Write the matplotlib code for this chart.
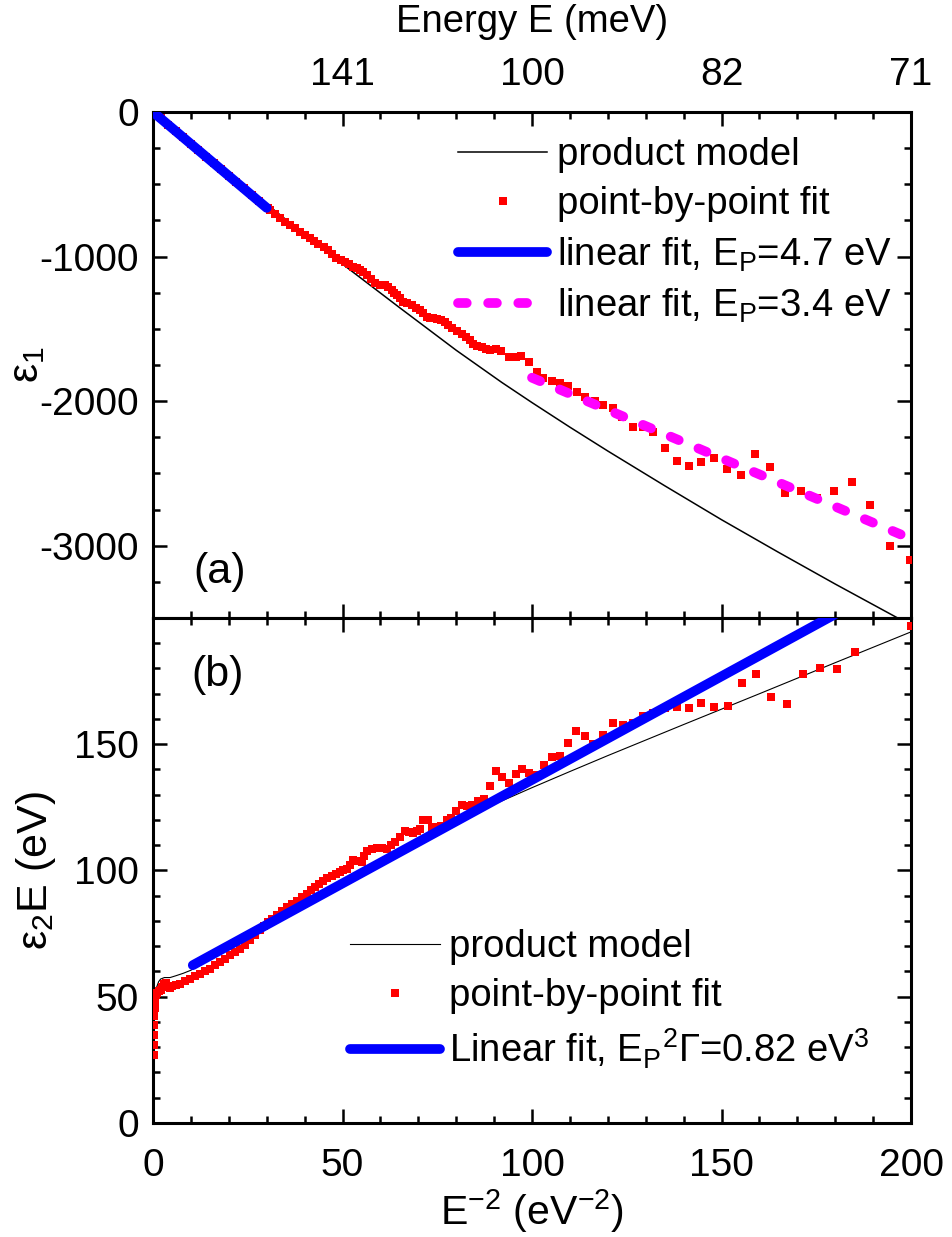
import matplotlib
matplotlib.use('Agg')
import matplotlib.pyplot as plt
from matplotlib.ticker import MultipleLocator

plt.rcParams['font.family'] = ['Liberation Sans', 'DejaVu Sans']
plt.rcParams['mathtext.default'] = 'regular'
plt.rcParams['axes.unicode_minus'] = False

# (a) eps1 vs E^-2
model1_x = [0, 10, 20, 30, 40, 50, 65, 80, 92, 100, 110, 120, 135, 150, 165, 180, 200]
model1_y = [0, -215, -428, -637, -848, -1052, -1352, -1648, -1870, -2010, -2180,
            -2345, -2585, -2820, -3045, -3265, -3550]

pts1_x = [0.5, 2, 4, 6, 8, 10, 12, 14, 16, 18, 20, 22, 24, 26, 28,
          30.3, 30.9, 32.2, 33.5, 34.8, 36.1, 37.4, 38.8, 40.1, 41.4, 42.5, 43.6,
          45.0, 46.3, 47.3, 48.4, 49.5, 50.7, 51.8, 52.9, 53.7, 54.6, 55.5, 56.4,
          57.5, 58.6, 59.9, 61.2, 62.1, 63.0, 63.6, 64.3, 65.1, 66.0, 67.1, 68.3,
          69.4, 70.4, 71.3, 72.2, 73.0, 73.9, 75.0, 76.1, 77.0, 77.9, 79.0, 80.1,
          81.4, 82.7, 83.6, 84.5, 85.6, 86.7, 87.8, 88.9, 90.6, 91.9, 94.0, 95.9,
          97.2, 99.3, 101.2, 103.0, 105.2, 107.4, 109.6, 111.8, 114.0, 116.6,
          118.8, 121.5, 123.7, 126.6, 129.2, 132.0, 135.0, 138.2, 141.3, 144.5,
          148.0, 151.4, 155.1, 158.8, 162.8, 166.8, 171.0, 175.1, 179.7, 184.4,
          189.3, 194.5, 199.7]
pts1_y = [-11, -44, -88, -132, -176, -220, -264, -308, -352, -396, -440, -484,
          -528, -572, -616,
          -664, -678, -707, -736, -759, -782, -805, -828, -851, -874, -895, -915,
          -935, -955, -985, -1012, -1024, -1035, -1052, -1070, -1082, -1093, -1110,
          -1128, -1157, -1185, -1194, -1197, -1212, -1232, -1250, -1266, -1290,
          -1312, -1324, -1336, -1353, -1370, -1393, -1416, -1422, -1428, -1434,
          -1439, -1456, -1474, -1495, -1515, -1535, -1554, -1580, -1607, -1616,
          -1624, -1636, -1647, -1636, -1654, -1695, -1693, -1689, -1727, -1797,
          -1843, -1859, -1873, -1896, -1935, -1969, -1997, -2025, -2050, -2108,
          -2177, -2177, -2212, -2323, -2417, -2449, -2419, -2395, -2467, -2509,
          -2367, -2457, -2634, -2620, -2668, -2619, -2560, -2717, -3000, -3100]

fit47_x = [0, 30]
fit47_y = [0, -663]
fit34_x = [100, 198]
fit34_y = [-1838, -2930]

# (b) eps2*E vs E^-2
model2_x = [0, 0.1, 0.3, 0.6, 1.0, 1.5, 2.0, 3.0, 4.5, 6, 8, 10, 15, 20, 30, 40,
            50, 60, 70, 80, 90, 100, 110, 120, 140, 160, 180, 200]
model2_y = [28, 35, 45, 51, 54, 56, 57, 57.6, 57.6, 58.3, 59.3, 60.5, 65, 69.5,
            77.8, 86.2, 94.5, 102.8, 111, 119, 126.2, 132.8, 139.2, 145.5, 157.8,
            170, 182.3, 194.5]

pts2_x = [0.15, 0.2, 0.25, 0.3, 0.35, 0.4, 0.5, 0.7, 1.0, 1.5, 2.0, 2.5, 3.0, 3.5,
          4.0, 4.5, 5.0, 6.0, 7.1, 8.4, 9.8, 11.1, 12.4, 13.7, 15.0, 16.3, 17.7,
          19.0, 20.3, 21.6, 23.0, 24.3, 25.6, 26.9, 28.2, 29.3, 30.4, 31.5, 32.6,
          34.0, 35.3, 36.6, 37.9, 39.2, 40.6, 41.6, 42.7, 43.8, 44.9, 46.0, 47.2,
          48.2, 49.3, 50.2, 51.1, 52.0, 52.9, 54.0, 55.1, 55.7, 56.4, 57.7, 59.0,
          60.3, 61.7, 62.8, 63.9, 65.2, 66.5, 67.6, 68.7, 69.6, 70.4, 71.3, 72.6,
          73.7, 74.8, 75.9, 77.5, 78.6, 79.9, 81.4, 82.9, 84.3, 85.8, 87.3, 88.9,
          90.5, 92.2, 93.9, 95.7, 97.4, 99.2, 101.2, 103.2, 105.3, 107.3, 109.4,
          111.6, 114.0, 116.2, 118.7, 121.3, 123.9, 126.6, 129.2, 132.0, 135.1,
          138.2, 141.3, 144.6, 148.0, 151.6, 155.4, 159.2, 163.1, 167.3, 171.5,
          175.9, 180.5, 185.2, 200.0]
pts2_y = [27, 31, 35, 39, 42.5, 45.5, 48.5, 50.5, 51.5, 52.2, 52.6, 54, 55, 55.3,
          54.2, 53.6, 54.2, 54.8, 55.2, 56.2, 57.2, 58.2, 59.2, 60.1, 61.1, 62.4,
          63.8, 65.1, 66.4, 67.7, 69, 70.6, 72.3, 74.3, 76.3, 78, 79.6, 80.9, 82.2,
          83.9, 85.5, 86.8, 88.1, 89.4, 90.8, 92.1, 93.4, 94.7, 96, 97, 98, 98.7,
          99.3, 100, 100.7, 102.3, 104, 103.6, 103.3, 105.6, 107.9, 108.5, 109,
          108.8, 108.6, 109.9, 111.2, 113.4, 115.6, 115.4, 114.8, 115.7, 116.5,
          119.8, 120, 117.2, 117.3, 117.5, 119.8, 120.8, 123.7, 126.1, 125.4,
          125.8, 127.4, 128.5, 133.6, 139.5, 136.9, 134.5, 138.2, 140.3, 138.5,
          137.9, 141.6, 144.8, 145.5, 150.3, 155.3, 153.1, 150.1, 153.8, 158.5,
          157.6, 158.4, 161, 162.2, 164.3, 164.8, 164.2, 166.3, 164.8, 165.3,
          174.4, 177.7, 168.9, 166.1, 177.7, 180.2, 179.8, 186.5, 196.9]

fit082_x = [10.5, 180]
fit082_y = [62.5, 201.5]

xticks = [0, 50, 100, 150, 200]
energy_labels = ['', '141', '100', '82', '71']

TICK_FS = 28
TEXT_FS = 27.5
LABEL_FS = 31
MS = 5.4

fig = plt.figure(figsize=(9.53, 12.37), dpi=100)
ax1 = fig.add_axes([0.16055, 0.50040, 0.79538, 0.40906])
ax2 = fig.add_axes([0.16055, 0.09216, 0.79538, 0.40825])

# panel (a)
ax1.plot(model1_x, model1_y, color='black', lw=1.1, label='product model', zorder=2)
ax1.plot(pts1_x, pts1_y, ls='none', marker='s', ms=MS, mew=0, color='red',
         label='point-by-point fit', zorder=3)
ax1.plot(fit47_x, fit47_y, color='blue', lw=7, solid_capstyle='round',
         label='linear fit, E$_P$=4.7 eV', zorder=4)
ax1.plot(fit34_x, fit34_y, color='magenta', lw=7, dashes=(0.9, 2.2),
         dash_capstyle='round', label='linear fit, E$_P$=3.4 eV', zorder=4)

ax1.set_xlim(0, 200)
ax1.set_ylim(-3500, 0)
ax1.set_xticks(xticks)
ax1.set_xticklabels(energy_labels)
ax1.set_yticks([0, -1000, -2000, -3000])
ax1.xaxis.set_minor_locator(MultipleLocator(10))
ax1.yaxis.set_minor_locator(MultipleLocator(250))
ax1.tick_params(axis='x', labelbottom=False, labeltop=True)
ax1.xaxis.set_label_position('top')
ax1.set_xlabel('Energy E (meV)', fontsize=TEXT_FS, labelpad=18)
ax1.set_ylabel('ε$_1$', fontsize=LABEL_FS)
ax1.yaxis.set_label_coords(-0.14, 0.5)
ax1.text(0.088, 0.091, '(a)', transform=ax1.transAxes, fontsize=LABEL_FS,
         ha='center', va='center')
ax1.legend(loc='upper left', bbox_to_anchor=(0.402, 0.95), frameon=False,
           fontsize=TEXT_FS, handlelength=2.35, handletextpad=0.25,
           labelspacing=0.34, borderpad=0, borderaxespad=0, numpoints=1)

# panel (b)
ax2.plot(model2_x, model2_y, color='black', lw=0.8, label='product model', zorder=2)
ax2.plot(pts2_x, pts2_y, ls='none', marker='s', ms=MS, mew=0, color='red',
         label='point-by-point fit', zorder=3)
ax2.plot(fit082_x, fit082_y, color='blue', lw=7, solid_capstyle='round',
         label='Linear fit, E$_P$$^2$Γ=0.82 eV$^3$', zorder=4)

ax2.set_xlim(0, 200)
ax2.set_ylim(0, 200)
ax2.set_xticks(xticks)
ax2.set_yticks([0, 50, 100, 150])
ax2.xaxis.set_minor_locator(MultipleLocator(10))
ax2.yaxis.set_minor_locator(MultipleLocator(10))
ax2.set_xlabel('E$^{-2}$ (eV$^{-2}$)', fontsize=29.5, labelpad=2)
ax2.set_ylabel('ε$_2$E (eV)', fontsize=LABEL_FS)
ax2.yaxis.set_label_coords(-0.125, 0.5)
ax2.text(0.085, 0.887, '(b)', transform=ax2.transAxes, fontsize=LABEL_FS,
         ha='center', va='center')
ax2.legend(loc='upper left', bbox_to_anchor=(0.26, 0.384), frameon=False,
           fontsize=TEXT_FS, handlelength=2.35, handletextpad=0.25,
           labelspacing=0.34, borderpad=0, borderaxespad=0, numpoints=1)

for ax in (ax1, ax2):
    for sp in ax.spines.values():
        sp.set_linewidth(2.2)
    ax.tick_params(which='both', direction='in', top=True, right=True,
                   width=1.8, labelsize=TICK_FS)
    ax.tick_params(which='major', length=10)
    ax.tick_params(which='minor', length=5)
    ax.tick_params(axis='y', which='major', pad=10)
ax1.tick_params(axis='x', which='major', pad=14)
ax2.tick_params(axis='x', which='major', pad=18)

fig.savefig('out.png', dpi=100)
